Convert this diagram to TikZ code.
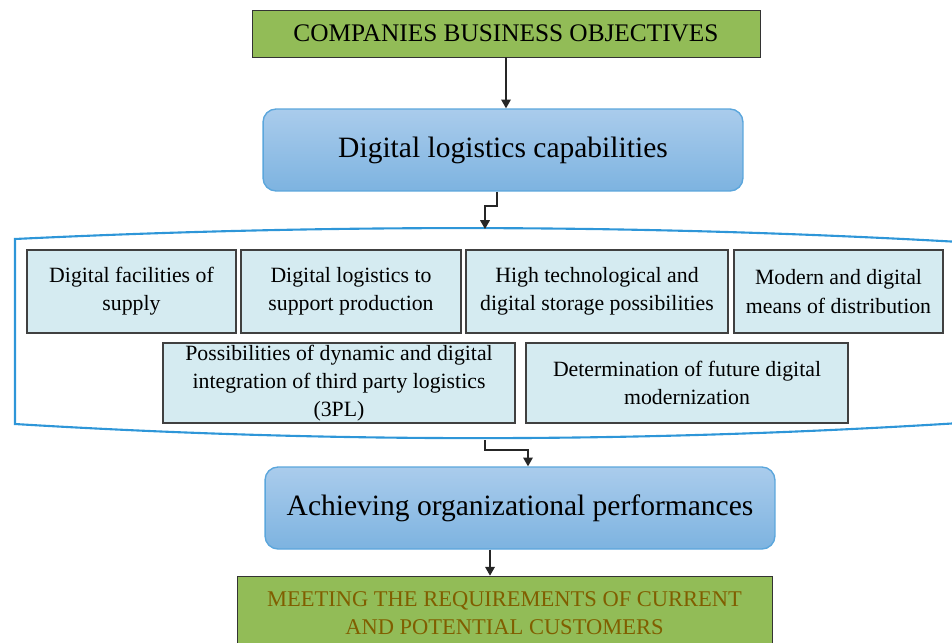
\documentclass[tikz,border=0pt]{standalone}
\usepackage{fontspec}
\setmainfont{Liberation Serif}
\usepackage{xcolor}
\usetikzlibrary{arrows.meta}

\definecolor{objgreen}{HTML}{92BC57}
\definecolor{capblue}{HTML}{7DB3E0}
\definecolor{captop}{HTML}{AACCEC}
\definecolor{capline}{HTML}{5BA6DC}
\definecolor{itemfill}{HTML}{D5EBF1}
\definecolor{framecol}{HTML}{2E96D8}
\definecolor{meettext}{HTML}{805E00}

\begin{document}
\begin{tikzpicture}[x=0.02cm, y=-0.02cm,
        goal/.style={draw=black!80, fill=objgreen, inner sep=0pt, align=center},
        stage/.style={draw=capline, rounded corners=0.26cm, top color=captop, bottom color=capblue,
            line width=0.8pt, inner sep=0pt, font=\fontsize{16.8}{19}\selectfont},
        item/.style={draw=black!75, fill=itemfill, line width=0.7pt, inner sep=0pt, align=center,
            minimum height=1.66cm, font=\fontsize{12.4}{16}\selectfont},
        link/.style={draw=black!85, line width=0.7pt, -{Triangle[width=5.5pt,length=5pt]}}]
        \useasboundingbox (0,0) rectangle (952,642);

        \node [goal, minimum width=10.16cm, minimum height=0.94cm,
            font=\fontsize{14.4}{16}\selectfont] (obj) at (506,33.5) {COMPANIES BUSINESS OBJECTIVES};
        \node [stage, minimum width=9.6cm, minimum height=1.64cm] (cap) at (503,150) {Digital logistics capabilities};

        \draw [framecol, line width=1.2pt] (960,242) .. controls (639,224) and (327,224) .. (15,239)
            -- (15,424) .. controls (327,443) and (639,443) .. (960,423);

        \node [item, minimum width=4.18cm] (supply) at (131.5,291.5) {Digital facilities of\\supply};
        \node [item, minimum width=4.4cm] (prod) at (351,291.5) {Digital logistics to\\support production};
        \node [item, minimum width=5.24cm] (store) at (597,291.5) {High technological and\\digital storage possibilities};
        \node [item, minimum width=4.18cm] (distr) at (838.5,291.5) {Modern and digital\\means of distribution};
        \node [item, minimum width=7.04cm, minimum height=1.6cm] (tpl) at (339,383)
            {Possibilities of dynamic and digital\\integration of third party logistics\\(3PL)};
        \node [item, minimum width=6.44cm, minimum height=1.6cm] (future) at (687,383)
            {Determination of future digital\\modernization};

        \node [stage, minimum width=10.2cm, minimum height=1.64cm] (perf) at (520,508) {Achieving organizational performances};
        \node [goal, minimum width=10.7cm, minimum height=1.48cm, text=meettext,
            font=\fontsize{12.8}{16}\selectfont] (meet) at (504.5,613)
            {MEETING THE REQUIREMENTS OF CURRENT\\AND POTENTIAL CUSTOMERS};

        \coordinate (fin) at (485,229);
        \coordinate (fout) at (485,440);

        \draw [link] (obj.south) -- (cap.north -| obj.south);
        \draw [link] (cap.south -| 497,0) |- (491,206) -| (fin);
        \draw [link] (fout) |- (528,450) -- (perf.north -| 528,0);
        \draw [link] (perf.south -| 490,0) -- (meet.north -| 490,0);
    \end{tikzpicture}
\end{document}
